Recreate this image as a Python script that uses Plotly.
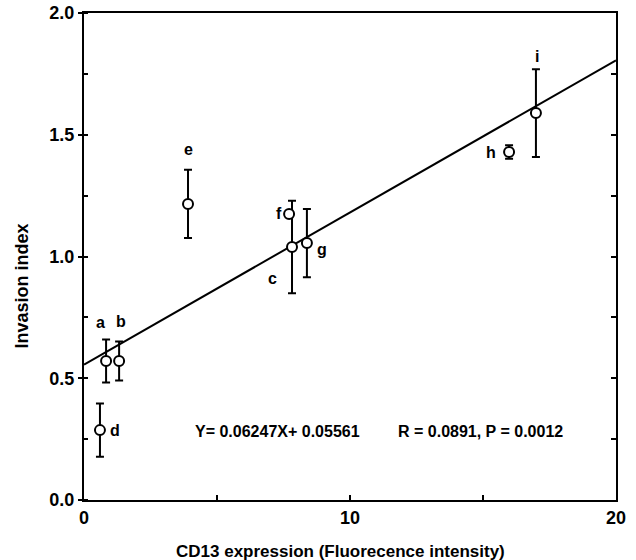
import plotly.graph_objects as go

# ---- data ----
labels = ["a", "b", "c", "d", "e", "f", "g", "h", "i"]
cd13 = [0.83, 1.32, 7.82, 0.60, 3.91, 7.71, 8.38, 15.98, 16.99]
invasion = [0.571, 0.571, 1.039, 0.287, 1.216, 1.175, 1.055, 1.429, 1.589]
err = [0.088, 0.080, 0.190, 0.109, 0.140, 0.0, 0.140, 0.028, 0.180]
slope = 0.06247
intercept = 0.5561
x_range = [0, 20]
y_range = [0, 2.0]
x_ticks = [0, 5, 10, 15, 20]
x_ticktext = ["0", "", "10", "", "20"]
y_ticks = [0.0, 0.5, 1.0, 1.5, 2.0]
y_ticktext = ["0.0", "0.5", "1.0", "1.5", "2.0"]
eq_text = "Y= 0.06247X+ 0.05561"
stat_text = "R = 0.0891, P = 0.0012"
x_title = "CD13 expression (Fluorecence intensity)"
y_title = "Invasion index"

# label offsets (pixels) relative to each point
label_offsets = {
    "a": (-6, 38), "b": (2, 39), "c": (-20, -31), "d": (15, 0), "e": (0, 54),
    "f": (-10, 0), "g": (15, -6), "h": (-18, 0), "i": (1, 57),
}

FONT = "Liberation Sans, Arial, Helvetica, sans-serif"

def bold(t):
    return "<b>" + t + "</b>" if t else ""

fig = go.Figure()

line_x = x_range
line_y = [slope * v + intercept for v in line_x]
fig.add_trace(go.Scatter(x=line_x, y=line_y, mode="lines",
                         line=dict(color="black", width=2),
                         showlegend=False, hoverinfo="skip"))

fig.add_trace(go.Scatter(
    x=cd13, y=invasion, mode="markers",
    marker=dict(symbol="circle", size=10, color="white",
                line=dict(color="black", width=2)),
    error_y=dict(type="data", array=err, visible=True, color="black",
                 thickness=2, width=4),
    showlegend=False,
))

# invisible trace to draw right-side axis ticks
fig.add_trace(go.Scatter(x=[None], y=[None], yaxis="y2", showlegend=False,
                         hoverinfo="skip"))

annotations = []
for lab, xv, yv in zip(labels, cd13, invasion):
    dx, dy = label_offsets[lab]
    annotations.append(dict(x=xv, y=yv, xref="x", yref="y", text=bold(lab),
                            showarrow=False, xshift=dx, yshift=dy,
                            xanchor="center", yanchor="middle",
                            font=dict(family=FONT, size=16, color="black")))

annotations.append(dict(x=0.363, y=0.1415, xref="paper", yref="paper",
                        text=bold(eq_text), showarrow=False,
                        xanchor="center", yanchor="middle",
                        font=dict(family=FONT, size=16, color="black")))
annotations.append(dict(x=0.746, y=0.1415, xref="paper", yref="paper",
                        text=bold(stat_text), showarrow=False,
                        xanchor="center", yanchor="middle",
                        font=dict(family=FONT, size=16, color="black")))
annotations.append(dict(x=-0.117, y=0.44, xref="paper", yref="paper",
                        text=bold(y_title), textangle=-90,
                        showarrow=False, xanchor="center", yanchor="middle",
                        font=dict(family=FONT, size=18, color="black")))
annotations.append(dict(x=0.483, y=-0.105, xref="paper", yref="paper",
                        text=bold(x_title), showarrow=False,
                        xanchor="center", yanchor="middle",
                        font=dict(family=FONT, size=17, color="black")))

fig.update_layout(
    width=636, height=560,
    margin=dict(l=84, r=20, t=13, b=60),
    paper_bgcolor="white", plot_bgcolor="white",
    font=dict(family=FONT, color="black"),
    annotations=annotations,
    xaxis=dict(range=x_range, tickvals=x_ticks,
               ticktext=[bold(t) for t in x_ticktext],
               ticks="inside", ticklen=5, tickwidth=1.5, tickcolor="black",
               showgrid=False, zeroline=False, automargin=False,
               showline=True, linecolor="black", linewidth=2, mirror=True,
               tickfont=dict(family=FONT, size=18, color="black")),
    yaxis=dict(range=y_range, tickvals=y_ticks,
               ticktext=[bold(t) for t in y_ticktext],
               ticks="outside", ticklen=4, tickwidth=1.5, tickcolor="black",
               minor=dict(ticks="inside", dtick=0.25, ticklen=4,
                          tickcolor="black", tickwidth=1.5),
               showgrid=False, zeroline=False, automargin=False,
               showline=True, linecolor="black", linewidth=2,
               tickfont=dict(family=FONT, size=18, color="black")),
    yaxis2=dict(range=y_range, overlaying="y", side="right", dtick=0.25,
                ticks="inside", ticklen=5, tickwidth=1.5, tickcolor="black",
                showticklabels=False, showgrid=False, zeroline=False,
                automargin=False,
                showline=True, linecolor="black", linewidth=2),
)

fig.write_html("out.html",
               config={"displayModeBar": False},
               post_script="document.body.style.margin='0px';"
                           "document.body.style.overflow='hidden';")
